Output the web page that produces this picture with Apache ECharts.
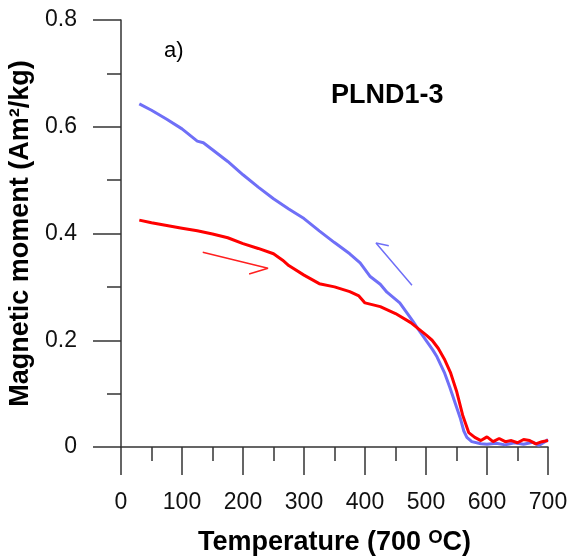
<!DOCTYPE html>
<html>
<head>
<meta charset="utf-8">
<script src="https://cdn.jsdelivr.net/npm/echarts@6/dist/echarts.min.js"></script>
<style>
  html, body { margin: 0; padding: 0; background: #fff; }
  #main { width: 571px; height: 559px; }
</style>
</head>
<body>
<div id="main"></div>
<script>
// heating curve (red)
var heatT = [30, 50, 75, 100, 125, 150, 175, 200, 225, 250, 265, 275, 300, 325, 350, 375, 390, 400, 425, 450, 475, 500, 510, 520, 530, 540, 550, 560, 570, 580, 590, 600, 610, 620, 630, 640, 650, 660, 670, 680, 690, 700];
var heatM = [0.425, 0.420, 0.415, 0.410, 0.405, 0.399, 0.392, 0.381, 0.372, 0.362, 0.350, 0.340, 0.322, 0.306, 0.300, 0.291, 0.283, 0.270, 0.263, 0.250, 0.233, 0.210, 0.200, 0.185, 0.165, 0.140, 0.105, 0.060, 0.027, 0.018, 0.012, 0.019, 0.010, 0.016, 0.010, 0.012, 0.008, 0.014, 0.012, 0.006, 0.010, 0.012];
// cooling curve (blue)
var coolT = [30, 50, 75, 100, 125, 135, 150, 175, 200, 225, 250, 275, 300, 325, 350, 375, 392, 408, 425, 436, 457, 479, 490, 511, 518, 530, 539, 550, 556, 562, 567, 575, 590, 600, 615, 630, 645, 660, 675, 685, 695, 700];
var coolM = [0.643, 0.631, 0.614, 0.596, 0.573, 0.570, 0.557, 0.535, 0.510, 0.487, 0.465, 0.446, 0.428, 0.405, 0.383, 0.362, 0.345, 0.320, 0.305, 0.290, 0.270, 0.235, 0.216, 0.182, 0.169, 0.140, 0.112, 0.075, 0.055, 0.030, 0.018, 0.010, 0.006, 0.005, 0.007, 0.004, 0.008, 0.005, 0.009, 0.003, 0.010, 0.014];
// direction arrows (data coordinates)
var heatArrow = [[134, 0.365], [241, 0.335], [210, 0.324]];
var coolArrow = [[477, 0.303], [418, 0.382], [439, 0.377]];

function pairs(xs, ys) {
  return xs.map(function (x, i) { return [x, ys[i]]; });
}

var font = '"Liberation Sans", Arial, sans-serif';
var axisColor = '#333';

var myChart = echarts.init(document.getElementById('main'));
var option = {
  animation: false,
  grid: { left: 121, top: 20, right: 23, bottom: 112, containLabel: false, outerBoundsMode: 'none' },
  xAxis: {
    type: 'value',
    min: 0, max: 700, interval: 100,
    name: 'Temperature (700 ᴼC)',
    nameLocation: 'middle',
    nameGap: 82,
    nameTextStyle: { fontFamily: font, fontSize: 27, fontWeight: 'bold', color: '#000' },
    axisLine: { show: true, lineStyle: { color: axisColor, width: 1.5 } },
    axisTick: { show: true, inside: false, length: 28, lineStyle: { color: axisColor, width: 1.5 } },
    minorTick: { show: true, splitNumber: 2, length: 14, lineStyle: { color: axisColor, width: 1.5 } },
    axisLabel: { margin: 44, fontFamily: font, fontSize: 23, color: '#111' },
    splitLine: { show: false }
  },
  yAxis: {
    type: 'value',
    min: 0, max: 0.8, interval: 0.2,
    name: 'Magnetic moment (Am²/kg)',
    nameLocation: 'middle',
    nameGap: 86,
    nameRotate: 90,
    nameTextStyle: { fontFamily: font, fontSize: 27, fontWeight: 'bold', color: '#000' },
    axisLine: { show: true, lineStyle: { color: axisColor, width: 1.5 } },
    axisTick: { show: true, inside: false, length: 28, lineStyle: { color: axisColor, width: 1.5 } },
    minorTick: { show: true, splitNumber: 2, length: 14, lineStyle: { color: axisColor, width: 1.5 } },
    axisLabel: {
      margin: 44, fontFamily: font, fontSize: 23, color: '#111',
      formatter: function (v) { return v === 0 ? '0' : v.toFixed(1); }
    },
    splitLine: { show: false }
  },
  graphic: [
    { type: 'text', left: 164, top: 40, style: { text: 'a)', font: '22px ' + font, fill: '#000' } },
    { type: 'text', left: 331, top: 82, style: { text: 'PLND1-3', font: 'bold 27px ' + font, fill: '#000' } }
  ],
  series: [
    {
      name: 'cooling', type: 'line', data: pairs(coolT, coolM),
      showSymbol: false, lineStyle: { color: '#6f6ff7', width: 3 }, z: 2
    },
    {
      name: 'heating', type: 'line', data: pairs(heatT, heatM),
      showSymbol: false, lineStyle: { color: '#ff0000', width: 3 }, z: 3
    },
    {
      name: 'heatArrow', type: 'line', data: heatArrow,
      showSymbol: false, lineStyle: { color: '#ff2020', width: 1.5 }
    },
    {
      name: 'coolArrow', type: 'line', data: coolArrow,
      showSymbol: false, lineStyle: { color: '#6f6ff7', width: 1.5 }
    }
  ]
};
myChart.setOption(option);
window.addEventListener('resize', function () { myChart.resize(); });
</script>
</body>
</html>
